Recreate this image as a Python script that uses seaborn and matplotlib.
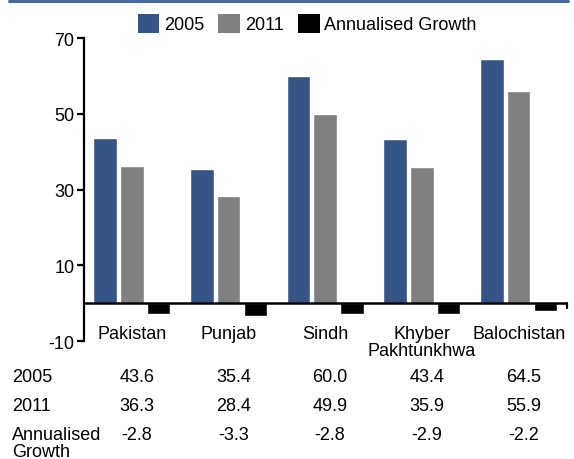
import pandas as pd
import matplotlib
matplotlib.use("Agg")
import matplotlib.pyplot as plt
import matplotlib.transforms as mtransforms
from matplotlib.lines import Line2D
from matplotlib.patches import Patch
import seaborn as sns

# Datos del gráfico
regiones = ["Pakistan", "Punjab", "Sindh", "Khyber\nPakhtunkhwa", "Balochistan"]
valores_2005 = [43.6, 35.4, 60.0, 43.4, 64.5]
valores_2011 = [36.3, 28.4, 49.9, 35.9, 55.9]
crecimiento = [-2.8, -3.3, -2.8, -2.9, -2.2]
series = ["2005", "2011", "Annualised Growth"]
filas_tabla = ["2005", "2011", "Annualised\nGrowth"]
colores = ["#365587", "#808080", "#000000"]
yticks = [-10, 10, 30, 50, 70]

sns.set_theme(style="white")
plt.rcParams["font.family"] = ["Liberation Sans", "DejaVu Sans"]
plt.rcParams["font.size"] = 13
plt.rcParams["text.color"] = "black"
plt.rcParams["axes.unicode_minus"] = False

df = pd.DataFrame({
    "region": regiones * 3,
    "serie": [s for s in series for _ in regiones],
    "valor": valores_2005 + valores_2011 + crecimiento,
})

fig = plt.figure(figsize=(5.74, 4.6), dpi=100)
ax = fig.add_axes([0.1455, 0.2565, 0.8423, 0.6587])
sns.barplot(data=df, x="region", y="valor", hue="serie", hue_order=series,
            palette=colores, width=0.83, gap=0.12, saturation=1,
            ax=ax, legend=False)

ax.set_xlim(-0.5, 4.5)
ax.set_ylim(-10, 70)
ax.set_yticks(yticks)
ax.set_xticks([])
ax.set_xlabel("")
ax.set_ylabel("")
sns.despine(ax=ax, bottom=True)
ax.spines["left"].set_color("black")
ax.spines["left"].set_linewidth(1.6)
ax.tick_params(axis="y", left=True, direction="out", length=5, width=1.6,
               color="black", pad=1.5, labelsize=13, labelcolor="black")

# Línea del cero
ax.axhline(0, color="black", lw=1.8, zorder=5)
ax.plot([1, 1], [0, -1.3], color="black", lw=1.6,
        transform=mtransforms.blended_transform_factory(ax.transAxes, ax.transData),
        clip_on=False)

# Etiquetas de las regiones dentro del eje
for i, r in enumerate(regiones):
    ax.text(i, -5.8, r, ha="center", va="top", fontsize=13, linespacing=0.97)

# Leyenda
handles = [Patch(facecolor=c, edgecolor="none") for c in colores]
ax.legend(handles, series, loc="center", ncol=3, frameon=False,
          bbox_to_anchor=(307 / 574, 1 - 24.5 / 460), bbox_transform=fig.transFigure,
          handlelength=1.2, handleheight=1.25, handletextpad=0.25,
          columnspacing=0.8, fontsize=13)

# Tabla de valores debajo
trans = mtransforms.blended_transform_factory(ax.transData, fig.transFigure)
tops = [369, 398, 427]
for fila, top, vals in zip(filas_tabla, tops, [valores_2005, valores_2011, crecimiento]):
    fig.text(12 / 574, 1 - top / 460, fila, ha="left", va="top", fontsize=13, linespacing=0.98)
    for i, v in enumerate(vals):
        ax.text(i + 0.05, 1 - top / 460, f"{v:.1f}", transform=trans,
                ha="center", va="top", fontsize=13)

# Línea azul superior
fig.add_artist(Line2D([9 / 574, 568 / 574], [1 - 1.5 / 460] * 2,
                      transform=fig.transFigure, color="#4a6898", lw=2.2))

fig.savefig("out.png", dpi=100)
